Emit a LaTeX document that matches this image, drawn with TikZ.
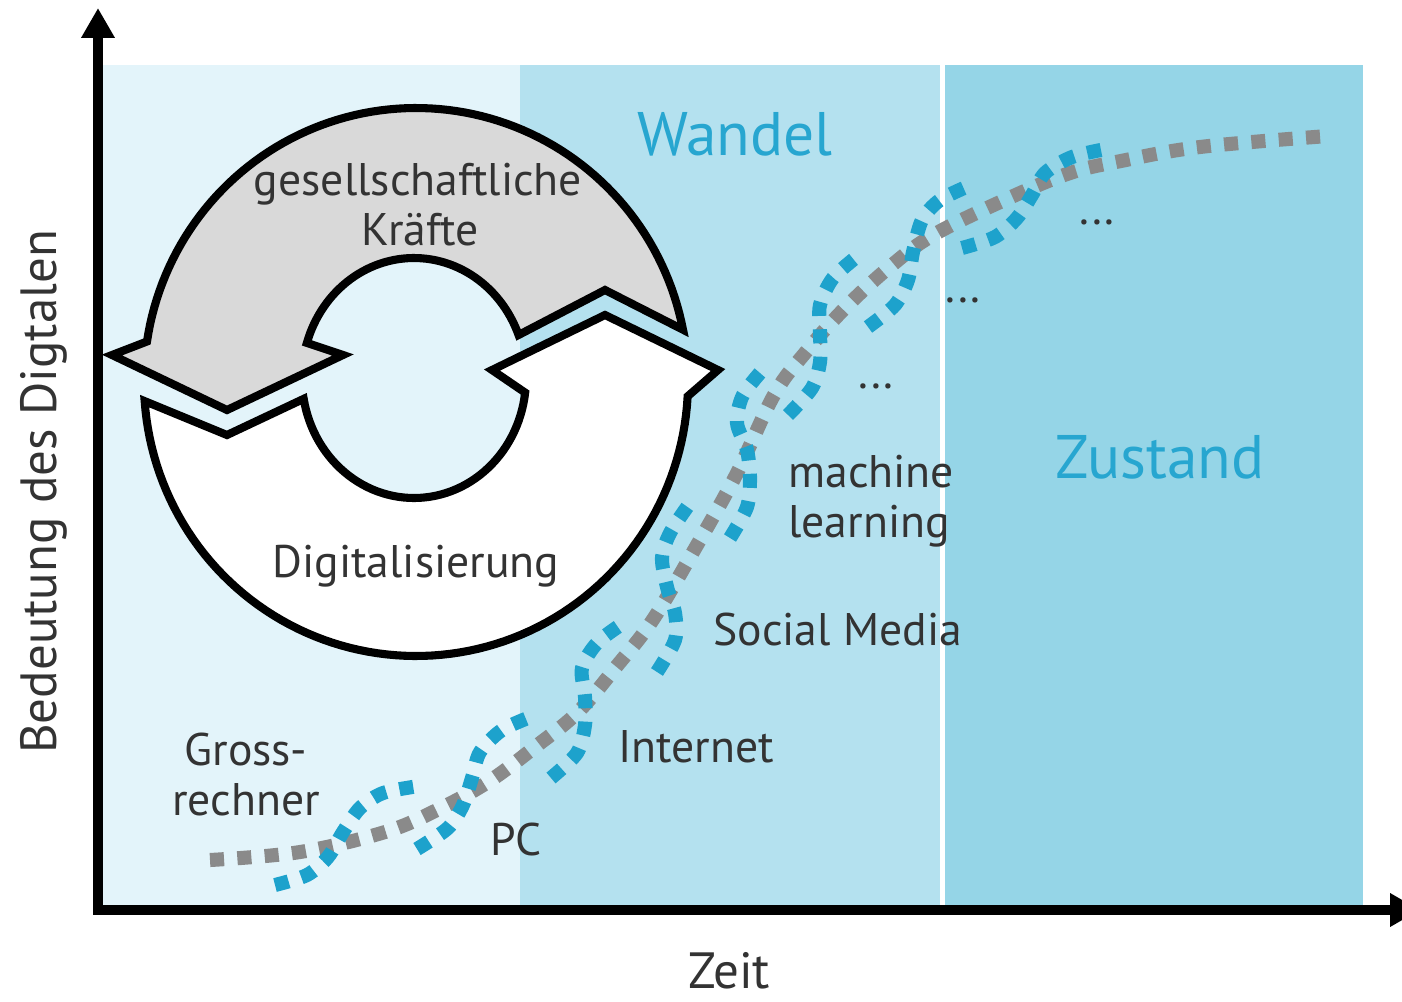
\documentclass[tikz,border=0pt]{standalone}
\usepackage{fontspec}
\setmainfont{PT Sans}
\usetikzlibrary{arrows.meta}

\definecolor{paneA}{HTML}{E3F4FA}
\definecolor{paneB}{HTML}{B4E1EF}
\definecolor{paneC}{HTML}{95D5E7}
\definecolor{ringgray}{HTML}{D9D9D9}
\definecolor{trendgray}{HTML}{8A8A8A}
\definecolor{trendblue}{HTML}{1DA2CC}
\definecolor{headblue}{HTML}{27A6D0}
\definecolor{labelgray}{HTML}{333333}

\begin{document}
\begin{tikzpicture}[x=0.02cm, y=-0.02cm,
  axis/.style={line width=5.6pt, -{Triangle[length=17pt, width=18pt]}},
  ring/.style={line width=4.6pt, draw=black, line join=miter},
  squares/.style={line width=8pt, dash pattern=on 8pt off 7.6pt},
  trendline/.style={squares, draw=trendgray},
  coil/.style={squares, draw=trendblue},
  label/.style={font=\fontsize{26}{29}\selectfont, text=labelgray, inner sep=0pt},
  axislabel/.style={font=\fontsize{29}{32}\selectfont, text=labelgray, inner sep=0pt},
  phase/.style={font=\fontsize{35}{39}\selectfont, text=headblue, inner sep=0pt},
]
\useasboundingbox (0,0) rectangle (1402,1001);
\clip (0,0) rectangle (1402,1001);
\fill[white] (0,0) rectangle (1402,1001);

% three phases in the background
\fill[paneA] (103,65) rectangle (520,908);
\fill[paneB] (520,65) rectangle (940,908);
\fill[paneC] (945,65) rectangle (1363,908);

% cycle of two bent arrows
\filldraw[ring, fill=ringgray]
  plot[domain=11:171.5, samples=90] ({416+272*cos(\x)},{382-274*sin(\x)})
  -- (112,355) -- (227,410) -- (343,355)
  -- plot[domain=163:21, samples=60] ({414+112*cos(\x)},{378-120*sin(\x)})
  -- (605,290) -- cycle;
\filldraw[ring, fill=white]
  plot[domain=184:357, samples=90] ({416+272*cos(\x)},{382-274*sin(\x)})
  -- (718,370) -- (605,315) -- (492,370)
  -- plot[domain=-7:-170, samples=60] ({414+112*cos(\x)},{378-120*sin(\x)})
  -- (227,435) -- cycle;

\node[label, anchor=base] (gesA) at (418,195) {gesellschaftliche};
\node[label, anchor=base] (gesB) at (420,245) {Kräfte};
\node[label, anchor=base] (digi) at (416,577) {Digitalisierung};

% trend of the digital
\draw[trendline] plot[smooth, tension=0.6] coordinates {(210,860) (300,852) (385,832)
  (437,810) (488,782) (535,747) (578,712) (616,667) (652,621) (693,552) (736,475)
  (774,395) (805,353) (846,307) (892,265) (935,234) (1009,198) (1070,173) (1121,161)
  (1200,147) (1328,136)};

% coil winding round the trend
\draw[coil] plot[smooth] coordinates {(275,885) (307,875) (328,857) (343,832) (360,808) (383,793) (419,786)};
\draw[coil] plot[smooth] coordinates {(417,849) (448,828) (463,805) (472,778) (480,752) (502,730) (533,716)};
\draw[coil] plot[smooth] coordinates {(551,778) (577,753) (585,725) (585,697) (582,668) (598,642) (628,620)};
\draw[coil] plot[smooth] coordinates {(657,672) (675,640) (675,613) (667,587) (662,558) (670,533) (690,503)};
\draw[coil] plot[smooth] coordinates {(730,538) (747,507) (750,478) (747,450) (737,423) (743,395) (766,366)};
\draw[coil] plot[smooth] coordinates {(788,415) (812,388) (820,362) (820,332) (820,305) (833,278) (859,255)};
\draw[coil] plot[smooth] coordinates {(868,327) (895,305) (908,280) (913,252) (922,220) (940,200) (971,185)};
\draw[coil] plot[smooth] coordinates {(962,248) (995,237) (1017,218) (1032,195) (1045,173) (1072,157) (1106,149)};

% phase titles
\node[phase, anchor=base] (wandel) at (735,155) {Wandel};
\node[phase, anchor=base] (zustand) at (1160,478) {Zustand};

% milestones
\node[label, anchor=base] (grossA) at (246,765) {Gross-};
\node[label, anchor=base] (grossB) at (246,815) {rechner};
\node[label, anchor=base west] (pc) at (490,855) {PC};
\node[label, anchor=base west] (inet) at (618,762) {Internet};
\node[label, anchor=base west] (social) at (713,645) {Social Media};
\node[label, anchor=base west] (mlA) at (788,487) {machine};
\node[label, anchor=base west] (mlB) at (788,537) {learning};
\node[label, anchor=base] (dotsA) at (876,388) {...};
\node[label, anchor=base] (dotsB) at (963,302) {...};
\node[label, anchor=base] (dotsC) at (1097,224) {...};

% axes
\coordinate (origin) at (98,910);
\coordinate (ytip) at (98,8);
\coordinate (xtip) at (1420,910);
\draw[axis] ([yshift=-2.8pt]origin) -- (ytip);
\draw[axis] ([xshift=-2.8pt]origin) -- (xtip);
\node[axislabel, anchor=base] (zeit) at (729,988) {Zeit};
\node[axislabel, anchor=base, rotate=90] (bedeutung) at (56,492) {Bedeutung des Digtalen};
\end{tikzpicture}
\end{document}
